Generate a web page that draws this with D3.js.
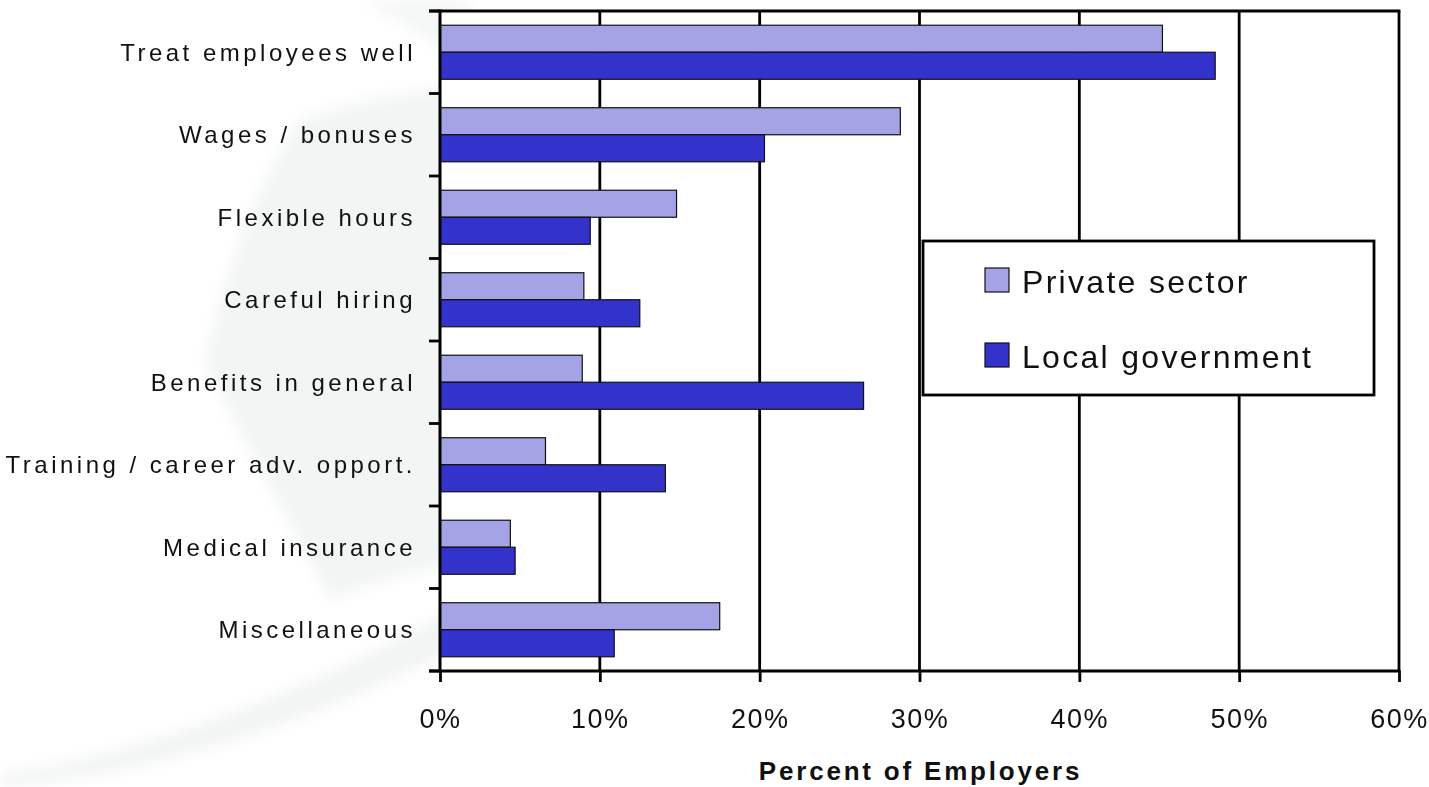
<!DOCTYPE html>
<meta charset="utf-8">
<html>
<head>
<style>
  body { margin: 0; background: #fff; }
  text { font-family: "Liberation Sans", Arial, sans-serif; fill: #111; }
  .domain { display: none; }
</style>
<script src="https://d3js.org/d3.v7.min.js"></script>
</head>
<body>
<svg width="1429" height="787"></svg>
<script>

// categories top to bottom
var categories = ["Treat employees well", "Wages / bonuses", "Flexible hours", "Careful hiring",
                  "Benefits in general", "Training / career adv. opport.", "Medical insurance", "Miscellaneous"];

var seriesNames = ["Private sector", "Local government"];

// percent of employers
var privateSector   = [45.2, 28.8, 14.8, 9.0, 8.9, 6.6, 4.4, 17.5];
var localGovernment = [48.5, 20.3, 9.4, 12.5, 26.5, 14.1, 4.7, 10.9];

var xTicks = [0, 10, 20, 30, 40, 50, 60];

var colors = ["#a3a3e6", "#3333cc"];

var svg = d3.select("svg"),
    width = +svg.attr("width"),
    height = +svg.attr("height"),
    margin = {top: 11, right: 30, bottom: 116, left: 440};

// faint watermark swooshes behind everything
var wm = svg.append("g").attr("fill", "#eef2f0");
var blur = svg.append("defs").append("filter").attr("id", "soft")
    .attr("x", "-20%").attr("y", "-20%").attr("width", "140%").attr("height", "140%");
blur.append("feGaussianBlur").attr("stdDeviation", 7);
wm.attr("filter", "url(#soft)");
wm.append("path").attr("d", "M300,120 C360,100 420,90 470,85 L470,560 C420,570 360,585 330,600 C290,520 230,420 205,360 C230,260 260,180 300,120 Z")
    .attr("opacity", 0.75);
wm.append("path").attr("d", "M0,775 C120,760 300,700 470,600 L470,640 C320,720 150,775 0,787 Z")
    .attr("opacity", 0.85);
wm.append("path").attr("d", "M360,0 L470,0 L470,70 C430,40 400,20 360,0 Z")
    .attr("opacity", 0.6);

var x = d3.scaleLinear()
    .domain([0, 60])
    .range([margin.left, width - margin.right]);

var y0 = d3.scaleBand()
    .domain(categories)
    .range([margin.top, height - margin.bottom])
    .paddingInner(0.345)
    .paddingOuter(0.1725);

var y1 = d3.scaleBand()
    .domain(seriesNames)
    .range([0, y0.bandwidth()]);

var step = y0.step();

// plot background
svg.append("rect")
    .attr("x", x(0)).attr("y", margin.top)
    .attr("width", x(60) - x(0)).attr("height", height - margin.bottom - margin.top)
    .attr("fill", "#fff");

// vertical gridlines
svg.append("g")
    .selectAll("line")
    .data(xTicks.slice(1))
    .enter().append("line")
    .attr("x1", function(d) { return x(d); })
    .attr("x2", function(d) { return x(d); })
    .attr("y1", margin.top)
    .attr("y2", height - margin.bottom)
    .attr("stroke", "#000")
    .attr("stroke-width", 2.8);

// top frame line
svg.append("line")
    .attr("x1", x(0) - 11).attr("x2", x(60) + 1.4)
    .attr("y1", margin.top).attr("y2", margin.top)
    .attr("stroke", "#000").attr("stroke-width", 2.8);

// bars
var rows = categories.map(function(c, i) {
    return {cat: c, values: [privateSector[i], localGovernment[i]]};
});

svg.append("g")
    .selectAll("g")
    .data(rows)
    .enter().append("g")
    .attr("transform", function(d) { return "translate(0," + y0(d.cat) + ")"; })
    .selectAll("rect")
    .data(function(d) { return d.values.map(function(v, j) { return {name: seriesNames[j], value: v, j: j}; }); })
    .enter().append("rect")
    .attr("x", x(0))
    .attr("y", function(d) { return y1(d.name); })
    .attr("width", function(d) { return x(d.value) - x(0); })
    .attr("height", y1.bandwidth())
    .attr("fill", function(d) { return colors[d.j]; })
    .attr("stroke", "#111")
    .attr("stroke-width", 1.2);

// left axis line + ticks at band boundaries
var bounds = d3.range(categories.length + 1).map(function(i) { return margin.top + i * step; });

svg.append("line")
    .attr("x1", x(0)).attr("x2", x(0))
    .attr("y1", margin.top - 1.4).attr("y2", height - margin.bottom + 1.4)
    .attr("stroke", "#000").attr("stroke-width", 3);

svg.append("g")
    .selectAll("line")
    .data(bounds)
    .enter().append("line")
    .attr("x1", x(0) - 11).attr("x2", x(0))
    .attr("y1", function(d) { return d; }).attr("y2", function(d) { return d; })
    .attr("stroke", "#000").attr("stroke-width", 2.8);

// category labels
svg.append("g")
    .selectAll("text")
    .data(categories)
    .enter().append("text")
    .attr("x", x(0) - 24)
    .attr("y", function(d) { return y0(d) + y0.bandwidth() / 2; })
    .attr("dy", "0.36em")
    .attr("text-anchor", "end")
    .style("font-size", "24px")
    .style("letter-spacing", "3.5px")
    .text(function(d) { return d; });

// bottom axis
svg.append("line")
    .attr("x1", x(0) - 11).attr("x2", x(60) + 1.4)
    .attr("y1", height - margin.bottom).attr("y2", height - margin.bottom)
    .attr("stroke", "#000").attr("stroke-width", 3);

var xAxis = svg.append("g")
    .attr("transform", "translate(0," + (height - margin.bottom) + ")")
    .call(d3.axisBottom(x).tickValues(xTicks).tickSize(11).tickPadding(0)
        .tickFormat(function(d) { return d + "%"; }));

xAxis.selectAll(".tick line")
    .attr("stroke", "#000").attr("stroke-width", 2.8);

xAxis.selectAll(".tick text")
    .attr("y", 57)
    .attr("dy", null)
    .attr("fill", "#111")
    .style("font-family", "'Liberation Sans', Arial, sans-serif")
    .style("font-size", "27px")
    .style("letter-spacing", "1.5px");

// axis title
svg.append("text")
    .attr("x", (x(0) + x(60)) / 2 + 1)
    .attr("y", 780)
    .attr("text-anchor", "middle")
    .style("font-size", "26px")
    .style("font-weight", "bold")
    .style("letter-spacing", "2.8px")
    .text("Percent of Employers");

// legend
var legend = svg.append("g").attr("transform", "translate(923,241)");

legend.append("rect")
    .attr("width", 451).attr("height", 154)
    .attr("fill", "#fff")
    .attr("stroke", "#000").attr("stroke-width", 2.8);

var item = legend.selectAll(".item")
    .data(seriesNames)
    .enter().append("g")
    .attr("class", "item")
    .attr("transform", function(d, i) { return "translate(62," + (27 + i * 75) + ")"; });

item.append("rect")
    .attr("width", 24).attr("height", 24)
    .attr("fill", function(d, i) { return colors[i]; })
    .attr("stroke", "#111").attr("stroke-width", 1.2);

item.append("text")
    .attr("x", 37)
    .attr("y", 25)
    .style("font-size", "32px")
    .style("letter-spacing", "2.3px")
    .text(function(d) { return d; });

</script>
</body>
</html>
